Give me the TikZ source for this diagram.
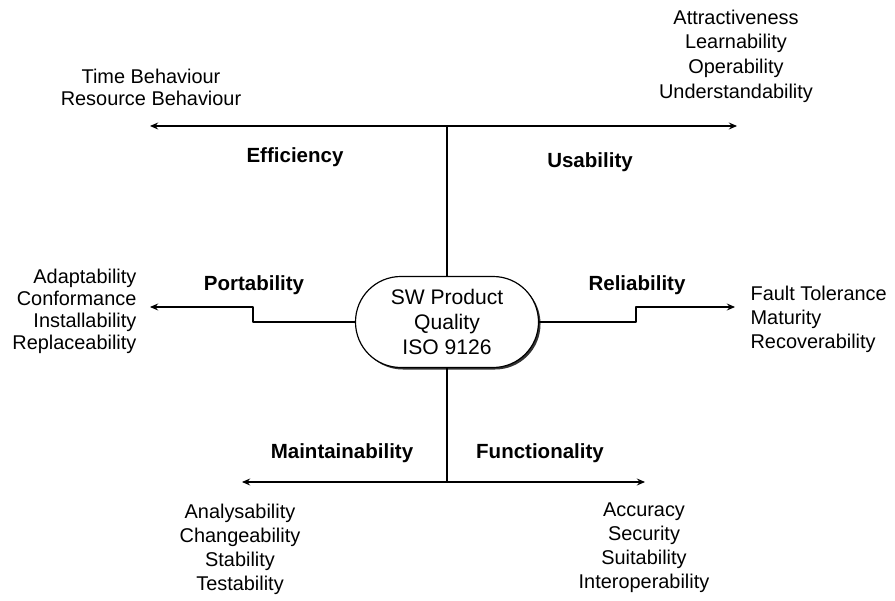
\documentclass[tikz,border=0pt]{standalone}
\usepackage{fontspec}
\setmainfont{Liberation Sans}
\usetikzlibrary{shadows,arrows.meta}
\begin{document}
\begin{tikzpicture}[x=0.3mm, y=-0.3mm, line join=round, line cap=round, >={Stealth[length=7pt,width=6pt,inset=2.5pt]}, line width=1pt,
	leaf/.style={inner sep=0pt, align=center, font=\fontsize{17}{20.5}\selectfont},
	char/.style={inner sep=0pt, anchor=north, font=\fontsize{17.5}{20}\selectfont\bfseries},
	quality/.style={draw, fill=white, rounded corners=13.6mm, minimum width=54.9mm, minimum height=27.3mm,
		align=center, font=\fontsize{18}{21.3}\selectfont,
		drop shadow={shadow xshift=0.6mm, shadow yshift=-0.6mm, fill=black!80, opacity=1}}]
	\useasboundingbox (0,0) rectangle (895,601);
	% centre
	\node[quality] (sq) at (447,322) {SW Product\\Quality\\ISO 9126};
	% end points of the axes
	\coordinate (top) at (447,126);
	\coordinate (eL) at (150,126); \coordinate (uR) at (737,126);
	\coordinate (bot) at (447,482);
	\coordinate (mL) at (242,482); \coordinate (fR) at (645,482);
	\coordinate (pStep) at (253,307); \coordinate (pL) at (150,307);
	\coordinate (rStep) at (636,307); \coordinate (rR) at (735,307);
	\draw (sq.north)--(top);
	\draw[<->] (eL)--(uR);
	\draw (sq.south)--(bot);
	\draw[<->] (mL)--(fR);
	\draw[->] (sq.west) -| (pStep)--(pL);
	\draw[->] (sq.east) -| (rStep)--(rR);
	% characteristics
	\node[char] (eff) at (295,147) {Efficiency};
	\node[char] (usa) at (590,152) {Usability};
	\node[char] (por) at (254,275) {Portability};
	\node[char] (rel) at (637,275) {Reliability};
	\node[char] (mai) at (342,443) {Maintainability};
	\node[char] (fun) at (540,443) {Functionality};
	% sub-characteristics
	\node[leaf, anchor=north, font=\fontsize{17}{18.8}\selectfont] (effsub) at (151,68) {Time Behaviour\\Resource Behaviour};
	\node[leaf, anchor=north, font=\fontsize{17}{21.3}\selectfont] (usasub) at (736,9) {Attractiveness\\Learnability\\Operability\\Understandability};
	\node[leaf, anchor=north east, align=right, font=\fontsize{17}{18.8}\selectfont] (porsub) at (137,268) {Adaptability\\Conformance\\Installability\\Replaceability};
	\node[leaf, anchor=north west, align=left] (relsub) at (750,285) {Fault Tolerance\\Maturity\\Recoverability};
	\node[leaf, anchor=north] (maisub) at (240,503) {Analysability\\Changeability\\Stability\\Testability};
	\node[leaf, anchor=north] (funsub) at (644,502) {Accuracy\\Security\\Suitability\\Interoperability};
\end{tikzpicture}
\end{document}
